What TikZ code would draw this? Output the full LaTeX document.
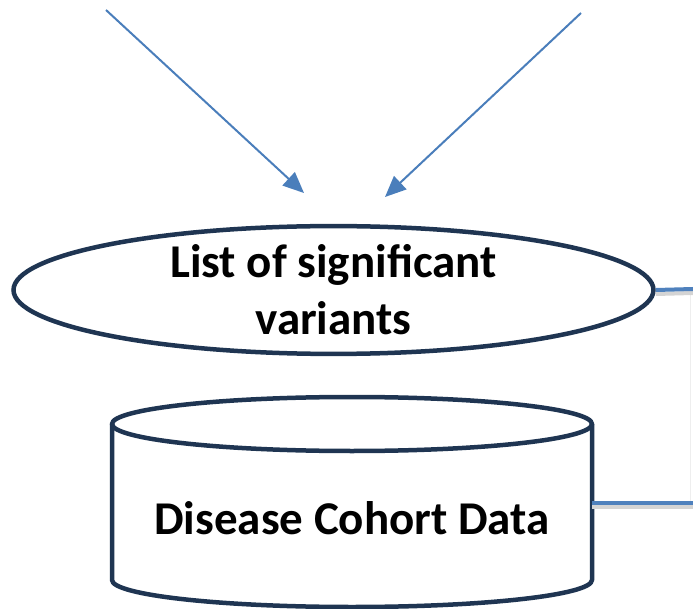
\documentclass[tikz,border=0pt]{standalone}
\usepackage{fontspec}
\setmainfont{Carlito}
\usetikzlibrary{shapes.geometric,arrows.meta}
\definecolor{navy}{HTML}{1F3552}
\definecolor{arrowblue}{HTML}{4A7EBB}
\definecolor{linkblue}{HTML}{4F81BD}
\definecolor{shadowgrey}{HTML}{D4D4D4}
\tikzset{
  bigtext/.style={font=\fontsize{47}{57}\selectfont\bfseries},
  listnode/.style={ellipse, draw=navy, line width=4.5pt, minimum width=640pt, minimum height=122pt, inner sep=0pt, align=center, bigtext},
  cylbody/.style={draw=navy, line width=4.5pt, line join=round},
  inarrow/.style={draw=arrowblue, line width=2pt, -{Triangle[length=21pt,width=18pt]}},
  link/.style={draw=linkblue, line width=4pt},
  linkshadow/.style={draw=shadowgrey, line width=4pt},
}
\begin{document}
\begin{tikzpicture}[x=1pt,y=-1pt]
\useasboundingbox (0,0) rectangle (693,609);
\node[listnode] (list) at (333.5,290) {List of significant\\variants};
% cylinder
\node[minimum width=480pt, minimum height=210pt, inner sep=0pt] (cohort) at (352,503) {};
\draw[cylbody] (112,424) -- (112,580) arc[start angle=180, end angle=360, x radius=240pt, y radius=27pt] -- (592,424);
\draw[cylbody] (352,424) ellipse[x radius=240pt, y radius=27pt];
\node[bigtext] (cohorttext) at (352,518) {Disease Cohort Data};
\coordinate (srcL) at (106,10);
\coordinate (srcR) at (581,13);
\coordinate (tipL) at (304,193);
\coordinate (tipR) at (385,197);
\draw[inarrow] (srcL) -- (tipL);
\draw[inarrow] (srcR) -- (tipR);
\coordinate (outA) at (693,289);
\coordinate (outB) at (693,503);
\coordinate (outAs) at (693,293);
\coordinate (outBs) at (693,507);
\draw[draw=shadowgrey!40, line width=1pt] (690,292) -- (690,503);
\draw[linkshadow] ([yshift=-4pt]list.east) -- (outAs);
\draw[link] (list.east) -- (outA);
\draw[linkshadow] ([yshift=-4pt]cohort.east) -- (outBs);
\draw[link] (cohort.east) -- (outB);
\end{tikzpicture}
\end{document}
